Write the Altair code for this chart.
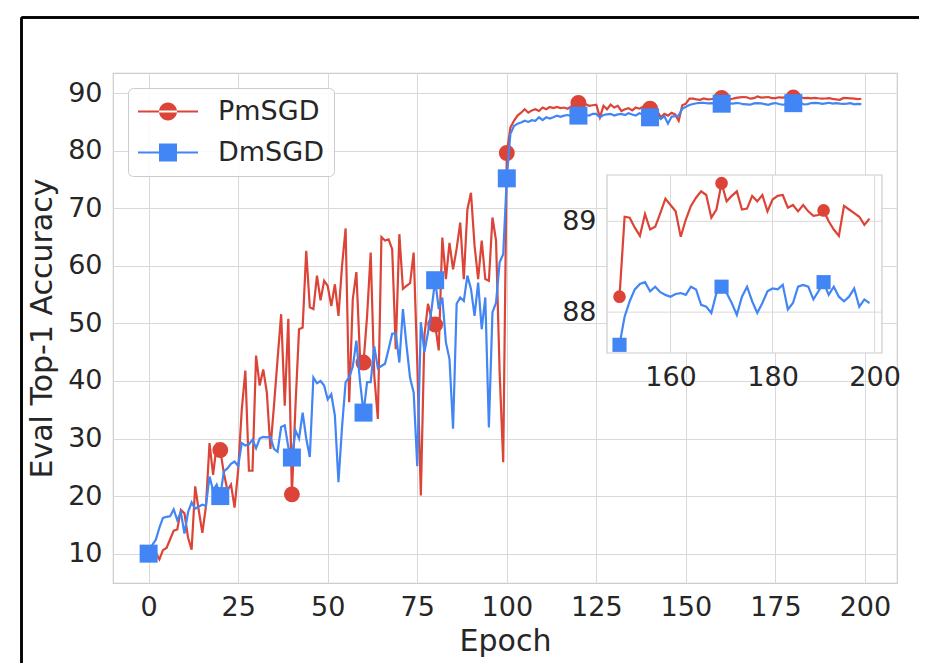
import altair as alt
import pandas as pd

# ---------------- data ----------------
EPOCHS = list(range(200))

PMSGD = [
    10.0, 9.4, 10.2, 9.0, 10.6, 11.0, 12.5, 14.0, 14.2, 17.6,
    17.0, 12.8, 10.7, 21.7, 17.5, 13.6, 18.2, 29.2, 23.7, 28.9,
    28.0, 24.0, 21.0, 22.0, 18.0, 24.5, 35.0, 41.8, 24.4, 24.4,
    44.4, 39.2, 42.0, 38.0, 28.2, 35.7, 43.8, 51.6, 35.7, 50.8,
    20.3, 35.7, 49.0, 49.3, 62.6, 52.8, 52.5, 58.3, 54.0, 57.4,
    56.5, 53.0, 56.8, 51.3, 60.0, 66.5, 36.3, 54.2, 58.9, 44.4,
    43.2, 51.3, 62.3, 40.9, 33.4, 65.0, 64.4, 64.6, 62.9, 45.5,
    65.5, 56.0, 56.5, 57.0, 62.3, 43.2, 20.1, 47.9, 53.4, 50.8,
    49.8, 45.3, 64.9, 57.7, 64.0, 59.4, 63.0, 67.5, 57.7, 69.8,
    72.7, 63.5, 57.7, 64.4, 57.7, 57.4, 68.4, 64.4, 41.5, 25.9,
    79.6, 84.0, 85.2, 86.1, 86.6, 87.2, 86.6, 87.0, 87.2, 86.9,
    87.5, 87.2, 87.6, 87.4, 87.6, 87.4, 87.5, 87.3, 87.7, 87.6,
    88.3, 88.0, 88.1, 87.8, 87.9, 88.0, 85.8, 87.8, 87.2, 88.0,
    87.5, 87.8, 86.9, 87.2, 87.4, 87.0, 87.5, 87.3, 87.6, 87.4,
    87.3, 87.0, 86.9, 85.8, 86.4, 86.1, 86.6, 86.3, 85.2, 87.9,
    88.17, 89.05, 89.04, 88.93, 88.84, 89.08, 88.91, 88.94, 89.09, 89.25,
    89.18, 89.11, 88.83, 89.02, 89.17, 89.26, 89.33, 89.29, 89.04, 89.13,
    89.42, 89.22, 89.28, 89.33, 89.13, 89.14, 89.28, 89.22, 89.29, 89.11,
    89.24, 89.28, 89.29, 89.15, 89.18, 89.11, 89.18, 89.11, 89.06, 89.07,
    89.12, 89.00, 88.91, 88.84, 89.17, 89.13, 89.09, 89.05, 88.96, 89.03,
]

DMSGD = [
    10.0, 11.5, 12.4, 14.5, 16.2, 16.4, 16.5, 17.7, 15.8, 17.2,
    13.5, 17.2, 18.9, 17.8, 18.2, 18.5, 18.3, 23.4, 21.0, 22.0,
    20.0, 24.3, 24.8, 25.6, 26.0, 25.2, 29.2, 28.8, 29.0, 29.8,
    28.3, 30.0, 30.3, 30.2, 30.3, 28.2, 27.7, 32.0, 32.3, 28.5,
    26.7, 31.4, 30.0, 34.5, 30.0, 26.8, 40.6, 39.6, 40.0, 39.2,
    36.8, 37.7, 34.0, 22.4, 32.0, 39.8, 40.6, 42.5, 47.0, 40.0,
    34.5, 39.8, 39.8, 46.0, 42.2, 42.6, 43.0, 45.5, 48.2, 48.3,
    43.2, 52.5, 46.2, 40.5, 38.0, 25.2, 50.2, 45.0, 48.4, 52.5,
    57.5, 52.5, 54.5, 46.7, 43.8, 31.7, 53.4, 54.5, 53.9, 58.3,
    56.0, 51.3, 57.1, 49.0, 54.5, 31.9, 51.9, 53.6, 60.6, 62.0,
    75.2, 82.9, 84.3, 84.7, 84.9, 85.2, 85.0, 85.3, 85.2, 85.8,
    85.3, 85.8, 85.6, 85.8, 86.1, 85.9, 86.1, 86.2, 86.0, 86.2,
    86.1, 86.0, 86.2, 86.1, 86.4, 86.4, 85.8, 86.2, 86.3, 86.4,
    86.1, 86.3, 86.4, 86.2, 86.5, 86.3, 86.1, 86.5, 86.3, 86.0,
    85.8, 86.0, 86.1, 85.5, 86.0, 84.7, 85.9, 86.0, 86.1, 87.3,
    87.64, 87.95, 88.12, 88.25, 88.31, 88.33, 88.23, 88.28, 88.22, 88.19,
    88.17, 88.20, 88.21, 88.19, 88.28, 88.25, 88.08, 88.06, 87.99, 88.21,
    88.28, 88.21, 88.10, 87.97, 88.17, 88.28, 88.12, 87.99, 88.10, 88.23,
    88.26, 88.25, 88.30, 88.03, 88.10, 88.28, 88.30, 88.28, 88.14, 88.23,
    88.33, 88.19, 88.28, 88.17, 88.12, 88.17, 88.26, 88.06, 88.14, 88.10,
]

SERIES = ["PmSGD", "DmSGD"]
COLORS = ["#db4437", "#4285f4"]

X_TICKS = [0, 25, 50, 75, 100, 125, 150, 175, 200]
Y_TICKS = [10, 20, 30, 40, 50, 60, 70, 80, 90]
X_DOMAIN = [-9.95, 208.95]
Y_DOMAIN = [4.9, 93.5]

INSET_START = 150
INSET_X_TICKS = [160, 180, 200]
INSET_Y_TICKS = [88, 89]
INSET_X_DOMAIN = [147.55, 201.45]
INSET_Y_DOMAIN = [87.55, 89.51]

# ---------------- layout constants ----------------
W, H = 784, 510
PAD_L, PAD_T, PAD_R, PAD_B = 105, 65, 22, 80
INSET_XR = [494, 769]
INSET_YR = [280, 102]
FONT = "DejaVu Sans"
TXT = "#262626"
GRID = "#d9d9d9"
FS_TICK = 27

df = pd.DataFrame({"epoch": EPOCHS, "PmSGD": PMSGD, "DmSGD": DMSGD})
df_in = df[df["epoch"] >= INSET_START]

# ---------------- main panel ----------------
xs = alt.Scale(domain=X_DOMAIN, nice=False, zero=False)
ys = alt.Scale(domain=Y_DOMAIN, nice=False, zero=False)
xa = alt.Axis(values=X_TICKS, title="Epoch", grid=True, labelPadding=11, titlePadding=6)
ya = alt.Axis(values=Y_TICKS, title="Eval Top-1 Accuracy", grid=True, labelPadding=11, titlePadding=10)

base = alt.Chart(df)
X = alt.X("epoch:Q", scale=xs, axis=xa)


def main_line(col, color):
    return base.mark_line(color=color, strokeWidth=2.2, clip=True).encode(
        x=X, y=alt.Y(f"{col}:Q", scale=ys, axis=ya))


def main_pts(col, color, shape, size):
    return base.transform_filter("datum.epoch % 20 == 0").mark_point(
        filled=True, shape=shape, size=size, color=color, opacity=1).encode(
        x=X, y=alt.Y(f"{col}:Q", scale=ys, axis=ya))

# legend glyphs: a line stub with the marker (unit = 13.5 px)
LINE_CIRCLE = ("M-2.222,-0.074H2.222V0.074H-2.222Z "
               "M-0.667,0A0.667,0.667 0 1,0 0.667,0A0.667,0.667 0 1,0 -0.667,0Z")
LINE_SQUARE = ("M-2.222,-0.074H2.222V0.074H-2.222Z "
               "M-0.667,-0.667H0.667V0.667H-0.667Z")

legend_df = pd.DataFrame({"series": SERIES, "epoch": [0, 0], "v": [10, 10]})
legend_layer = alt.Chart(legend_df).transform_filter("false").mark_point(
    filled=True, opacity=1).encode(
    x=X, y=alt.Y("v:Q", scale=ys, axis=ya),
    color=alt.Color("series:N", scale=alt.Scale(domain=SERIES, range=COLORS),
                    legend=alt.Legend(title=None, orient="none", legendX=15, legendY=15,
                                      symbolSize=729, symbolStrokeWidth=0, symbolOffset=16.5,
                                      labelFontSize=FS_TICK, labelFont=FONT,
                                      labelColor=TXT, labelOffset=36.5, padding=10,
                                      rowPadding=13, fillColor="rgba(255,255,255,0.85)",
                                      strokeColor="#cccccc", cornerRadius=5)),
    shape=alt.Shape("series:N", scale=alt.Scale(domain=SERIES, range=[LINE_CIRCLE, LINE_SQUARE])),
)

# black frame of the figure (left and top edges), in pixels from the plot origin
FRAME_X = 21.5 - 8 - PAD_L
FRAME_Y = 17.5 - 8 - PAD_T
frame_left = alt.Chart(legend_df).mark_rule(color="black", strokeWidth=2.5).encode(
    x=alt.value(FRAME_X), y=alt.value(FRAME_Y), y2=alt.value(H + PAD_B))
frame_top = alt.Chart(legend_df).mark_rule(color="black", strokeWidth=2.5).encode(
    x=alt.value(FRAME_X), x2=alt.value(W + PAD_R), y=alt.value(FRAME_Y))

main = alt.layer(
    main_line("PmSGD", COLORS[0]),
    main_pts("PmSGD", COLORS[0], "circle", 254),
    main_line("DmSGD", COLORS[1]),
    main_pts("DmSGD", COLORS[1], "square", 324),
    legend_layer,
    frame_left,
    frame_top,
)

# ---------------- inset panel ----------------
ixs = alt.Scale(domain=INSET_X_DOMAIN, range=INSET_XR, nice=False, zero=False)
iys = alt.Scale(domain=INSET_Y_DOMAIN, range=INSET_YR, nice=False, zero=False)
ixa = alt.Axis(values=INSET_X_TICKS, title=None, orient="bottom", offset=-(H - INSET_YR[0]),
               grid=False, domain=False, ticks=False, labelPadding=11)
iya = alt.Axis(values=INSET_Y_TICKS, title=None, orient="left", offset=-INSET_XR[0],
               grid=False, domain=False, ticks=False, labelPadding=11)

frame_df = pd.DataFrame({"x0": [INSET_X_DOMAIN[0]], "x1": [INSET_X_DOMAIN[1]],
                         "y0": [INSET_Y_DOMAIN[0]], "y1": [INSET_Y_DOMAIN[1]]})
vgrid_df = pd.DataFrame({"t": INSET_X_TICKS, "y0": INSET_Y_DOMAIN[0], "y1": INSET_Y_DOMAIN[1]})
hgrid_df = pd.DataFrame({"t": INSET_Y_TICKS, "x0": INSET_X_DOMAIN[0], "x1": INSET_X_DOMAIN[1]})

frame = alt.Chart(frame_df).mark_rect(fill="white", stroke="#cccccc", strokeWidth=1.2).encode(
    x=alt.X("x0:Q", scale=ixs, axis=ixa), x2="x1",
    y=alt.Y("y0:Q", scale=iys, axis=iya), y2="y1")
vgrid = alt.Chart(vgrid_df).mark_rule(color=GRID, strokeWidth=1).encode(
    x=alt.X("t:Q", scale=ixs, axis=ixa),
    y=alt.Y("y0:Q", scale=iys, axis=iya), y2="y1")
hgrid = alt.Chart(hgrid_df).mark_rule(color=GRID, strokeWidth=1).encode(
    x=alt.X("x0:Q", scale=ixs, axis=ixa), x2="x1",
    y=alt.Y("t:Q", scale=iys, axis=iya))

ibase = alt.Chart(df_in)
IX = alt.X("epoch:Q", scale=ixs, axis=ixa)


def in_line(col, color):
    return ibase.mark_line(color=color, strokeWidth=2.2).encode(
        x=IX, y=alt.Y(f"{col}:Q", scale=iys, axis=iya))


def in_pts(col, color, shape, size):
    return ibase.transform_filter(f"(datum.epoch - {INSET_START}) % 20 == 0").mark_point(
        filled=True, shape=shape, size=size, color=color, opacity=1).encode(
        x=IX, y=alt.Y(f"{col}:Q", scale=iys, axis=iya))

inset = alt.layer(
    frame, vgrid, hgrid,
    in_line("PmSGD", COLORS[0]),
    in_pts("PmSGD", COLORS[0], "circle", 160),
    in_line("DmSGD", COLORS[1]),
    in_pts("DmSGD", COLORS[1], "square", 200),
)

chart = alt.layer(main, inset).resolve_scale(
    x="independent", y="independent"
).properties(
    width=W, height=H,
    title=alt.TitleParams("Cifar10 (Batchsize 8k) Val Acc", fontSize=30, font=FONT,
                          fontWeight="normal", color=TXT, offset=12, anchor="middle"),
    autosize=alt.AutoSizeParams(type="none"),
    padding={"left": PAD_L, "top": PAD_T, "right": PAD_R, "bottom": PAD_B},
).configure_view(
    stroke="#cccccc", strokeWidth=1.2
).configure_axis(
    labelFont=FONT, titleFont=FONT, labelFontSize=FS_TICK, titleFontSize=30,
    titleFontWeight="normal", labelColor=TXT, titleColor=TXT,
    gridColor=GRID, gridWidth=1, domain=False, ticks=False,
)

chart.save("out.html", embed_options={"renderer": "svg", "actions": False})
